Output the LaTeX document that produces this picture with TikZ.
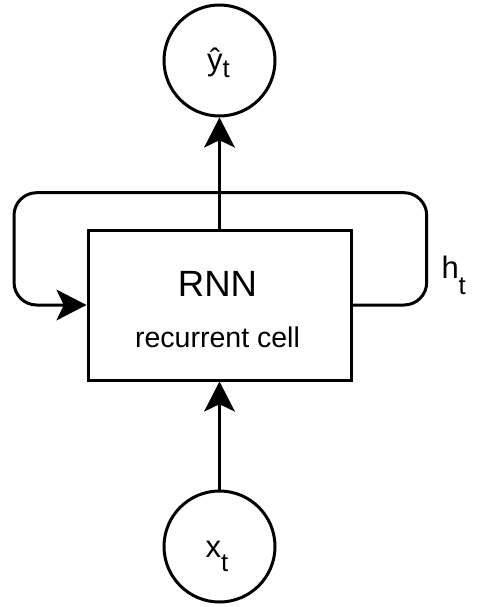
\documentclass[tikz,border=0pt]{standalone}
\usepackage{fontspec}
\setmainfont{Liberation Sans}
\usetikzlibrary{arrows.meta}
% lowered subscript "t" as used in the labels
\newcommand\lowt[1]{{\fontsize{19.3pt}{20pt}\selectfont\raisebox{-#1}{t}}}
\begin{document}
\begin{tikzpicture}[x=0.75pt,y=-0.75pt,
  line width=2.25pt,
  circ/.style={draw,circle,minimum size=83.25pt,inner sep=0pt},
  cellbox/.style={draw,rectangle,minimum width=197.25pt,minimum height=112.5pt,inner sep=0pt},
  lbl/.style={inner sep=0pt,font=\fontsize{23.25pt}{24pt}\selectfont},
  arr/.style={-{Stealth[length=22.5pt,width=23pt,inset=5.5pt]}}]
  \useasboundingbox (0,0) rectangle (477,607);

  % output, cell and input
  \node[circ] (yhat) at (219.5,60.5) {};
  \node[cellbox] (cell) at (219.5,305) {};
  \node[circ] (xt) at (219.5,546.5) {};

  % texts
  \node[lbl,anchor=base] (yl) at (218.5,70) {ŷ\lowt{5.6pt}};
  \node[lbl,anchor=base] (xl) at (217,557.7) {x\lowt{10.5pt}};
  \node[lbl,anchor=base west] (hl) at (440,278.3) {h\lowt{12.5pt}};
  \node[inner sep=0pt,font=\fontsize{27.4pt}{28pt}\selectfont,anchor=base] (rnn) at (217.5,296.7) {RNN};
  \node[inner sep=0pt,font=\fontsize{21.4pt}{22pt}\selectfont,anchor=base] (rc) at (217.5,347) {recurrent cell};

  % recurrent loop corners
  \coordinate (ne) at (426.7,192.7);
  \coordinate (sw) at (14,305);

  % connectors
  \draw[arr] (xt) -- (cell);
  \draw[arr, rounded corners=17pt] (cell.east) -| (ne) -| (sw) -- (cell.west);
  \draw[arr] (cell) -- (yhat);
\end{tikzpicture}
\end{document}
